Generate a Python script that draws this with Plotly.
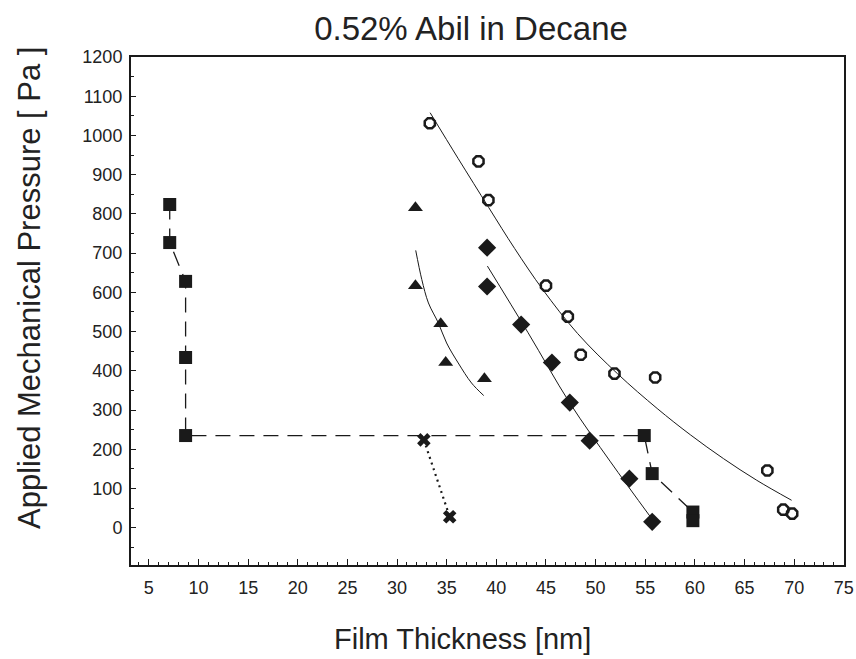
import plotly.graph_objects as go

# ---- data ----
sq_x = [7.1, 7.1, 8.7, 8.7, 8.7, 54.9, 55.7, 59.8, 59.8]
sq_y = [824, 727, 628, 434, 235, 235, 138, 40, 18]

cross_x = [32.7, 35.3]
cross_y = [224, 28]

tri_x = [31.85, 31.85, 34.4, 34.9, 38.8]
tri_y = [816, 617, 520, 421, 380]
tri_fit_x = [31.88, 32.49, 33.16, 34.16, 34.99, 36.16, 37.5, 38.73]
tri_fit_y = [707, 633, 573, 522, 471, 420, 369, 337]

dia_x = [39.07, 39.07, 42.5, 45.6, 47.4, 49.4, 53.4, 55.7]
dia_y = [714, 615, 518, 421, 319, 222, 125, 15]
dia_fit_x = [39.1, 43.2, 47.4, 51.5, 55.6]
dia_fit_y = [667, 497, 318, 168, 25]

cir_x = [33.3, 38.2, 39.2, 45.0, 47.2, 48.5, 51.9, 56.0, 67.3, 68.9, 69.8]
cir_y = [1031, 934, 835, 617, 538, 441, 393, 383, 146, 46, 36]
cir_fit_x = [33.33, 36.16, 39.24, 41.84, 44.68, 48.19, 52.19, 56.20, 59.54, 62.89, 66.23, 69.74]
cir_fit_y = [1058, 941, 816, 712, 607, 495, 393, 304, 237, 176, 121, 70]

x_ticks = list(range(5, 80, 5))
y_ticks = list(range(0, 1300, 100))

BLK = "#1a1a1a"
TXT = "#222222"
FONT = "Liberation Sans, Arial, sans-serif"

fig = go.Figure()

fig.add_trace(go.Scatter(x=sq_x, y=sq_y, mode="lines+markers",
                         line=dict(color=BLK, width=1.3, dash="15px,9px"),
                         marker=dict(symbol="square", size=13, color=BLK)))
fig.add_trace(go.Scatter(x=cross_x, y=cross_y, mode="lines+markers",
                         line=dict(color=BLK, width=2.2, dash="2px,4px"),
                         marker=dict(symbol="x", size=12, color=BLK)))
fig.add_trace(go.Scatter(x=tri_fit_x, y=tri_fit_y, mode="lines",
                         line=dict(color=BLK, width=1, shape="spline")))
fig.add_trace(go.Scatter(x=tri_x, y=tri_y, mode="markers",
                         marker=dict(symbol="triangle-up", size=13, color=BLK)))
fig.add_trace(go.Scatter(x=dia_fit_x, y=dia_fit_y, mode="lines",
                         line=dict(color=BLK, width=1, shape="spline")))
fig.add_trace(go.Scatter(x=dia_x, y=dia_y, mode="markers",
                         marker=dict(symbol="diamond", size=14, color=BLK)))
fig.add_trace(go.Scatter(x=cir_fit_x, y=cir_fit_y, mode="lines",
                         line=dict(color=BLK, width=1, shape="spline")))
fig.add_trace(go.Scatter(x=cir_x, y=cir_y, mode="markers",
                         marker=dict(symbol="octagon-open", size=11, color=BLK,
                                     line=dict(width=2.5, color=BLK))))

fig.update_layout(
    width=856, height=659,
    margin=dict(l=131, r=12, t=57, b=94, autoexpand=False),
    paper_bgcolor="white", plot_bgcolor="white",
    showlegend=False,
    font=dict(family=FONT, color=TXT),
    title=dict(text="0.52% Abil in Decane", x=471/856, xanchor="center",
               y=1 - 28/659, yanchor="middle", font=dict(size=33, color=TXT)),
)
fig.update_xaxes(range=[3.2, 75.02], tickvals=x_ticks, ticks="inside", ticklen=6,
                 tickwidth=1, tickcolor=BLK, automargin=False,
                 ticklabeloverflow="allow",
                 minor=dict(dtick=1, ticks="inside", ticklen=3, tickcolor=BLK),
                 showline=True, linecolor=BLK, linewidth=2, mirror=True,
                 showgrid=False, zeroline=False, tickfont=dict(size=18),
                 ticklabelstandoff=5)
fig.update_yaxes(range=[-95, 1200], tickvals=y_ticks, ticks="inside", ticklen=5,
                 tickwidth=1, tickcolor=BLK, automargin=False,
                 ticklabeloverflow="allow",
                 minor=dict(dtick=50, ticks="inside", ticklen=3, tickcolor=BLK),
                 showline=True, linecolor=BLK, linewidth=2, mirror=True,
                 showgrid=False, zeroline=False, tickfont=dict(size=18),
                 ticklabelstandoff=3)

fig.add_annotation(text="Applied Mechanical Pressure [ Pa ]", xref="paper", yref="paper",
                   x=(29 - 131) / 713, y=(565 - 288) / 508, textangle=-90,
                   showarrow=False, xanchor="center", yanchor="middle",
                   font=dict(size=31, color=TXT))
fig.add_annotation(text="Film Thickness [nm]", xref="paper", yref="paper",
                   x=(462 - 131) / 713, y=(565 - 639) / 508,
                   showarrow=False, xanchor="center", yanchor="middle",
                   font=dict(size=29, color=TXT))

fig.write_html("out.html")
